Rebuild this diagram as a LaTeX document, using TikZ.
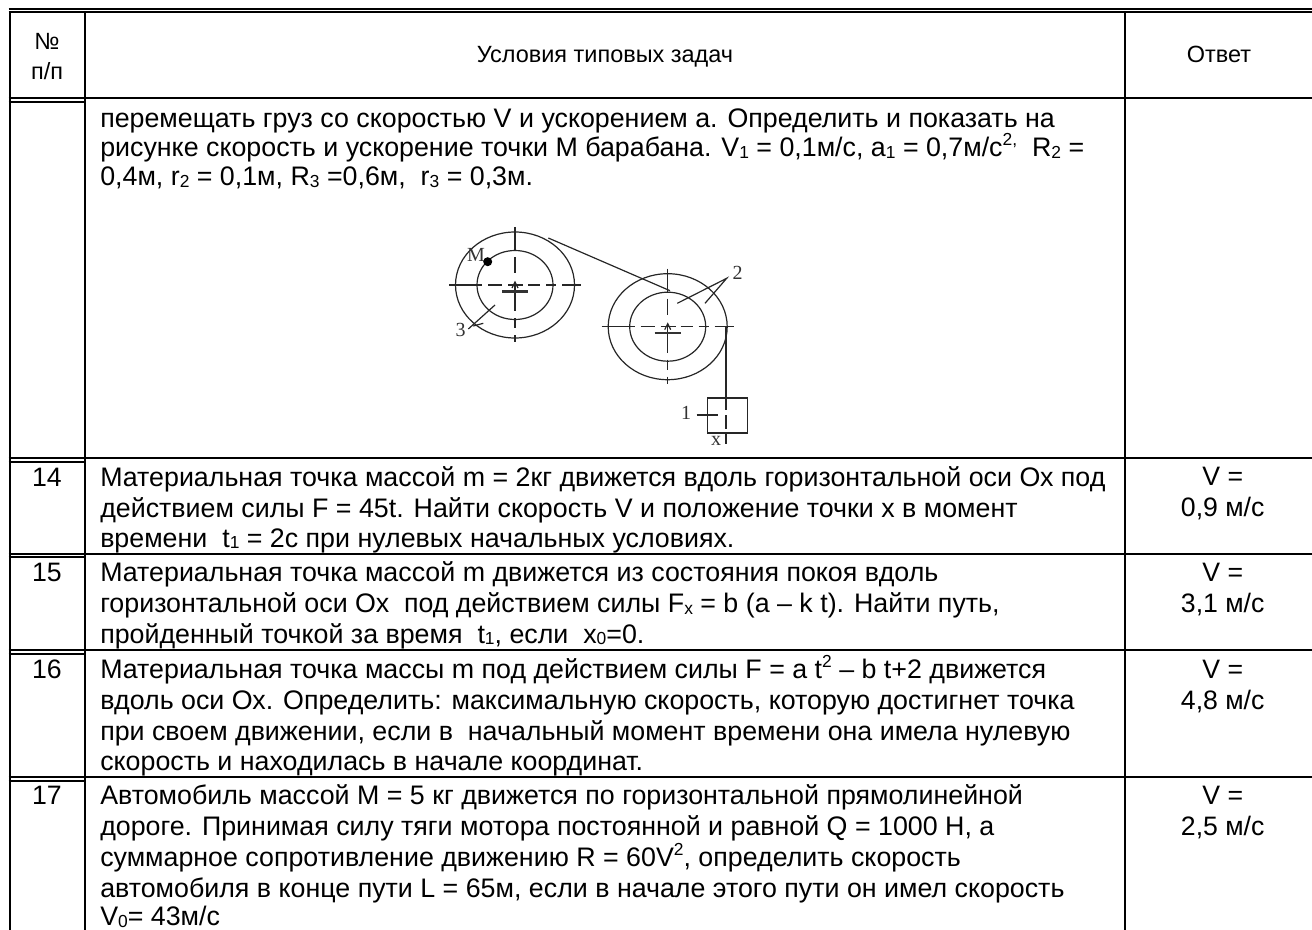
\documentclass[tikz,border=0pt]{standalone}
\usepackage{fontspec}
\setmainfont{Liberation Sans}
\newfontfamily\labfont{Liberation Serif}
\newcommand{\sbs}[1]{\raisebox{-0.06em}{\scalebox{0.65}{#1}}}
\newcommand{\sps}[1]{\raisebox{0.42em}{\scalebox{0.65}{#1}}}
\tikzset{
  rule/.style={line width=1.5pt,black},
  headt/.style={anchor=base,inner sep=0pt,font=\fontsize{17.6}{20}\selectfont},
  cellc/.style={anchor=base,inner sep=0pt,font=\fontsize{20}{23}\selectfont},
  bodyl/.style={anchor=base west,inner sep=0pt,font=\fontsize{20.1}{23}\selectfont},
  thin/.style={line width=0.9pt,black!85},
  lab/.style={font=\labfont\fontsize{15}{15}\selectfont,inner sep=0pt,text=black!80},
  pics/wheel/.style={code={
    \draw[thin] (0,0) ellipse (59.5 and 53);
    \draw[thin] (0,0) ellipse (38 and 34.5);
    \foreach \a/\b in {-66/-33,-27/-13,-7/8,13/25,31/41,47/66}
      \draw[thin] (\a,0) -- (\b,0);
    \foreach \a/\b in {-58/-34,-28/-12,-3/26,33/43,50/57}
      \draw[thin] (0,\a) -- (0,\b);
    \draw[thin] (-3,3) -- (0,-3) -- (3,3);
    \draw[line width=1.6pt,black!80] (-13,6.5) -- (13,6.5);
  }},
}
\begin{document}
\begin{tikzpicture}[x=0.75pt,y=-0.75pt]
\useasboundingbox (0,0) rectangle (1312,930);
% rules
\foreach \y in {9,12,98.5,457.5,553.5,650,776.7}
  \draw[rule] (8.5,\y) -- (1312,\y);
\foreach \y in {102,461.5,557,654,780.7}
  \draw[rule] (8.5,\y) -- (85,\y);
\foreach \x in {9.5,85,1125}
  \draw[rule] (\x,12) -- (\x,930);
% header
\node[headt] (hno) at (47,50) {№};
\node[headt] (hnob) at (47,80) {п/п};
\node[headt] (hcond) at (605,63) {Условия типовых задач};
\node[headt] (hans) at (1219,63) {Ответ};
% row 13
\node[bodyl] (r1) at (100,128) {перемещать груз со скоростью V и ускорением а. Определить и показать на};
\node[bodyl] (r2) at (100,157) {рисунке скорость и ускорение точки М барабана. V\sbs{1} = 0,1м/с, а\sbs{1} = 0,7м/с\sps{2,}\ \ R\sbs{2} =};
\node[bodyl] (r3) at (100,186) {0,4м, r\sbs{2} = 0,1м, R\sbs{3} =0,6м,\ \ r\sbs{3}\ = 0,3м.};
% row 14
\node[cellc] (n14) at (47,486) {14};
\node[bodyl] (a1) at (100,486) {Материальная точка массой m = 2кг движется вдоль горизонтальной оси Ох под};
\node[bodyl] (a2) at (100,517) {действием силы F = 45t. Найти скорость V и положение точки х в момент};
\node[bodyl] (a3) at (100,547) {времени\ \ t\sbs{1} = 2с при нулевых начальных условиях.};
\node[cellc] (v14a) at (1222.7,485) {V =};
\node[cellc] (v14b) at (1222.7,516.5) {0,9 м/с};
% row 15
\node[cellc] (n15) at (47,581.5) {15};
\node[bodyl] (b1) at (100,581.5) {Материальная точка массой m движется из состояния покоя вдоль};
\node[bodyl] (b2) at (100,612.5) {горизонтальной оси Ох\ \ под действием силы F\sbs{x} = b (a – k t). Найти путь,};
\node[bodyl] (b3) at (100,643) {пройденный точкой за время\ \ t\sbs{1}, если\ \ х\sbs{0}=0.};
\node[cellc] (v15a) at (1222.7,581) {V =};
\node[cellc] (v15b) at (1222.7,612.5) {3,1 м/с};
% row 16
\node[cellc] (n16) at (47,678.5) {16};
\node[bodyl] (c1) at (100,678.5) {Материальная точка массы m под действием силы F = a t\sps{2} – b t+2 движется};
\node[bodyl] (c2) at (100,709.5) {вдоль оси Ох. Определить: максимальную скорость, которую достигнет точка};
\node[bodyl] (c3) at (100,740) {при своем движении, если в\ \ начальный момент времени она имела нулевую};
\node[bodyl] (c4) at (100,770) {скорость и находилась в начале координат.};
\node[cellc] (v16a) at (1222.7,678) {V =};
\node[cellc] (v16b) at (1222.7,709.5) {4,8 м/с};
% row 17
\node[cellc] (n17) at (47,804.5) {17};
\node[bodyl] (d1) at (100,804.5) {Автомобиль массой М = 5 кг движется по горизонтальной прямолинейной};
\node[bodyl] (d2) at (100,835.5) {дороге. Принимая силу тяги мотора постоянной и равной Q = 1000 Н, а};
\node[bodyl] (d3) at (100,866.5) {суммарное сопротивление движению R = 60V\sps{2}, определить скорость};
\node[bodyl] (d4) at (100,897) {автомобиля в конце пути L = 65м, если в начале этого пути он имел скорость};
\node[bodyl] (d5) at (100,925.5) {V\sbs{0}= 43м/с};
\node[cellc] (v17a) at (1222.7,804) {V =};
\node[cellc] (v17b) at (1222.7,835.5) {2,5 м/с};
% figure
\pic at (515,285) {wheel};
\pic at (667.7,326.7) {wheel};
\coordinate (ropeA) at (548.3,238);
\coordinate (ropeB) at (670,290.7);
\draw[thin] (ropeA) -- (ropeB);
\coordinate (ropeC) at (726,326.7);
\coordinate (ropeD) at (726,410);
\draw[thin] (ropeC) -- (ropeD);
\node[draw,thin,minimum width=30pt,minimum height=26.25pt,inner sep=0pt,anchor=north west] (box) at (706.7,397.3) {};
\draw[thin] (726,415) -- (726,429);
\draw[thin] (726,433) -- (726,444);
\coordinate (oneA) at (696.7,415);
\coordinate (oneB) at (718.3,415);
\draw[thin] (oneA) -- (oneB);
\node[lab] (one) at (686,413) {1};
\node[lab] (ex) at (716,441) {x};
\node[lab] (two) at (737.5,273) {2};
\coordinate (twoT) at (726.7,278.3);
\coordinate (twoA) at (677.3,303.3);
\coordinate (twoB) at (705,303.3);
\draw[thin] (twoA) -- (twoT) -- (twoB);
\node[lab] (three) at (460.7,330) {3};
\coordinate (thrT) at (468.3,329);
\coordinate (thrA) at (495,305);
\draw[thin] (thrT) -- (thrA);
\coordinate (tickA) at (473.3,326);
\coordinate (tickB) at (483.3,323.3);
\draw[thin] (tickA) -- (tickB);
\node[lab] (emm) at (476,255) {М};
\fill[black] (487.7,261.7) circle (4.5);
\end{tikzpicture}
\end{document}
